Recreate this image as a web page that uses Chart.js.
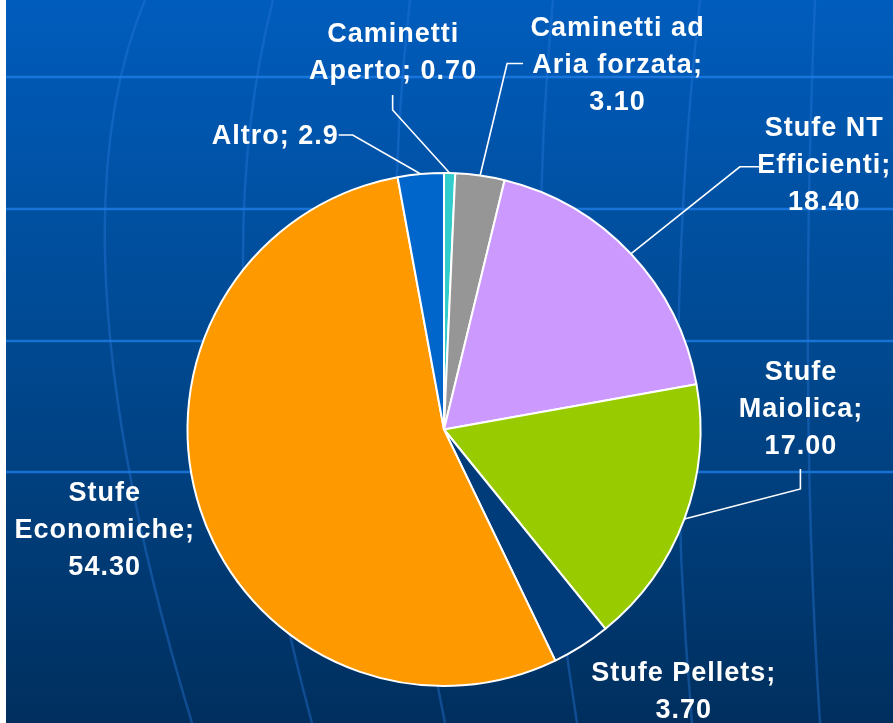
<!DOCTYPE html>
<html>
<head>
<meta charset="utf-8">
<script src="https://cdn.jsdelivr.net/npm/chart.js@4.4.1/dist/chart.umd.min.js"></script>
<style>
  body { margin: 0; background: #00305f; }
  #wrap { width: 893px; height: 723px; }
</style>
</head>
<body>
<div id="wrap"><canvas id="myChart" width="893" height="723"></canvas></div>
<script>
// data
const categories = ['Caminetti Aperto', 'Caminetti ad Aria forzata', 'Stufe NT Efficienti', 'Stufe Maiolica', 'Stufe Pellets', 'Stufe Economiche', 'Altro'];
const values = [0.70, 3.10, 18.40, 17.00, 3.70, 54.30, 2.9];
const valueLabels = ['0.70', '3.10', '18.40', '17.00', '3.70', '54.30', '2.9'];
const sliceColors = ['#33CCCC', '#969696', '#CC99FF', '#99CC00', '#003C7A', '#FF9900', '#0066CC'];

// how each label is wrapped and where it sits, relative to the slice's outer midpoint
const labelLines = [
    ['Caminetti', 'Aperto; {v}'],
    ['Caminetti ad', 'Aria forzata;', '{v}'],
    ['Stufe NT', 'Efficienti;', '{v}'],
    ['Stufe', 'Maiolica;', '{v}'],
    ['Stufe Pellets;', '{v}'],
    ['Stufe', 'Economiche;', '{v}'],
    ['Altro; {v}']
];
const labelOffsets = [
    { dx: -57, dy: -139, leader: [[-57, -63], [-57, -78]] },
    { dx: 137, dy: -147, leader: [[27, -112], [43, -112]] },
    { dx: 193, dy: -125, leader: [[109, -87], [129, -87]] },
    { dx: 116, dy: -146, leader: [[116, -30], [116, -50]] },
    { dx: 102, dy: 27, leader: null },
    { dx: -96, dy: -16, leader: null },
    { dx: -146, dy: -38, leader: [[-68, -39], [-82, -39]] }
];

const backdrop = {
    id: 'backdrop',
    beforeDraw(chart) {
        const c = chart.ctx;
        const w = chart.width, h = chart.height;
        c.save();
        const g = c.createLinearGradient(0, 0, 0, h);
        g.addColorStop(0, '#005CBC');
        g.addColorStop(0.5, '#00488F');
        g.addColorStop(1, '#002F5E');
        c.fillStyle = g;
        c.fillRect(0, 0, w, h);

        c.strokeStyle = 'rgba(30,125,230,0.8)';
        c.lineWidth = 2.5;
        [77, 209, 341, 472].forEach(function (y) {
            c.beginPath();
            c.moveTo(0, y);
            c.lineTo(w, y);
            c.stroke();
        });

        c.strokeStyle = 'rgba(40,120,220,0.4)';
        c.lineWidth = 2.5;
        const meridians = [
            [[145, 0], [107, 300], [192, 723]],
            [[273, 0], [245, 330], [312, 723]],
            [[410, 0], [398, 360], [445, 723]],
            [[553, 0], [542, 360], [577, 723]],
            [[700, 0], [678, 360], [692, 723]],
            [[815, 0], [808, 380], [820, 723]]
        ];
        meridians.forEach(function (m) {
            // quadratic through the middle point
            const cx = 2 * m[1][0] - (m[0][0] + m[2][0]) / 2;
            const cy = 2 * m[1][1] - (m[0][1] + m[2][1]) / 2;
            c.beginPath();
            c.moveTo(m[0][0], m[0][1]);
            c.quadraticCurveTo(cx, cy, m[2][0], m[2][1]);
            c.stroke();
        });

        c.fillStyle = '#ffffff';
        c.fillRect(0, 0, 6, h);
        c.restore();
    }
};

const sliceLabels = {
    id: 'sliceLabels',
    afterDraw(chart) {
        const c = chart.ctx;
        const arcs = chart.getDatasetMeta(0).data;
        c.save();
        c.fillStyle = '#ffffff';
        c.strokeStyle = '#ffffff';
        c.lineWidth = 1.6;
        c.font = 'bold 27px "Liberation Sans", Arial, sans-serif';
        c.letterSpacing = '1px';
        c.textAlign = 'center';
        c.textBaseline = 'middle';
        arcs.forEach(function (arc, i) {
            const p = arc.getProps(['x', 'y', 'startAngle', 'endAngle', 'outerRadius'], true);
            const mid = (p.startAngle + p.endAngle) / 2;
            const ax = p.x + Math.cos(mid) * p.outerRadius;
            const ay = p.y + Math.sin(mid) * p.outerRadius;
            const o = labelOffsets[i];
            if (o.leader) {
                c.beginPath();
                c.moveTo(ax, ay);
                o.leader.forEach(function (pt) { c.lineTo(ax + pt[0], ay + pt[1]); });
                c.stroke();
            }
            labelLines[i].forEach(function (line, k) {
                const txt = line.replace('{v}', valueLabels[i]);
                c.fillText(txt, ax + o.dx + 0.5, ay + o.dy + k * 37);
            });
        });
        c.restore();
    }
};

const ctx = document.getElementById('myChart').getContext('2d');
const myChart = new Chart(ctx, {
    type: 'pie',
    data: {
        labels: categories,
        datasets: [{
            data: values,
            backgroundColor: sliceColors,
            borderColor: '#ffffff',
            borderWidth: 2
        }]
    },
    options: {
        responsive: false,
        animation: false,
        layout: { padding: { top: 172, bottom: 36, left: 0, right: 5 } },
        plugins: {
            legend: { display: false },
            tooltip: { enabled: false }
        }
    },
    plugins: [backdrop, sliceLabels]
});
</script>
</body>
</html>
